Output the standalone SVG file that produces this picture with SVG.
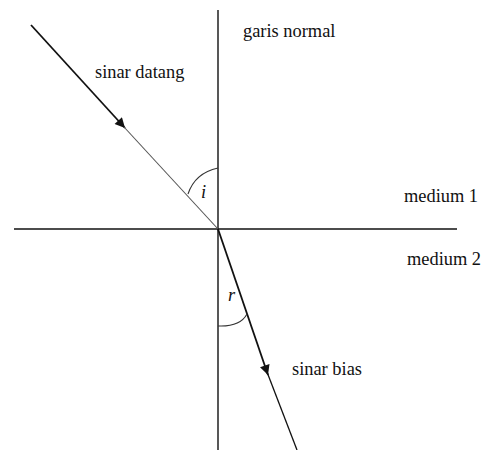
<svg xmlns="http://www.w3.org/2000/svg" width="485" height="450" viewBox="0 0 485 450">
<style>
text{font-family:'Liberation Serif','Times New Roman','DejaVu Serif',serif;font-size:18.4px;fill:#111}
.ax{stroke:#111;stroke-width:1.4;fill:none}
.ray{stroke:#111;stroke-width:1.8;fill:none}
.ray2{stroke:#555;stroke-width:1.1;fill:none}
.arc{stroke:#333;stroke-width:1.1;fill:none}
</style>
<defs>
<marker id="ah" viewBox="0 0 10 10" refX="10" refY="5" markerWidth="12" markerHeight="10" markerUnits="userSpaceOnUse" orient="auto">
<path d="M0,0 L10,5 L0,10 z" fill="#111"/>
</marker>
</defs>
<rect width="485" height="450" fill="#fff"/>
<g id="connectors">
<line id="normal" class="ax" x1="218" y1="10" x2="218" y2="450"/>
<line id="boundary" class="ax" x1="14" y1="229" x2="457" y2="229"/>
<line class="ray" x1="31" y1="25" x2="125" y2="128" marker-end="url(#ah)"/>
<line class="ray2" x1="124" y1="127" x2="218" y2="229"/>
<line class="ray" x1="218" y1="229" x2="268" y2="375" marker-end="url(#ah)"/>
<line class="ray" x1="267" y1="372" x2="297" y2="450" style="stroke-width:1.3"/>
<path class="arc" d="M188,194 Q195,173 218,168"/>
<path class="arc" d="M218,326 Q240,327 247,314"/>
</g>
<g id="labels" font-family="Liberation Serif, serif">
<text x="243" y="37">garis normal</text>
<text x="95" y="78">sinar datang</text>
<text x="404" y="202">medium 1</text>
<text x="407" y="265">medium 2</text>
<text x="292" y="375">sinar bias</text>
<text x="201" y="198" font-style="italic">i</text>
<text x="228" y="301" font-style="italic">r</text>
</g>
</svg>
